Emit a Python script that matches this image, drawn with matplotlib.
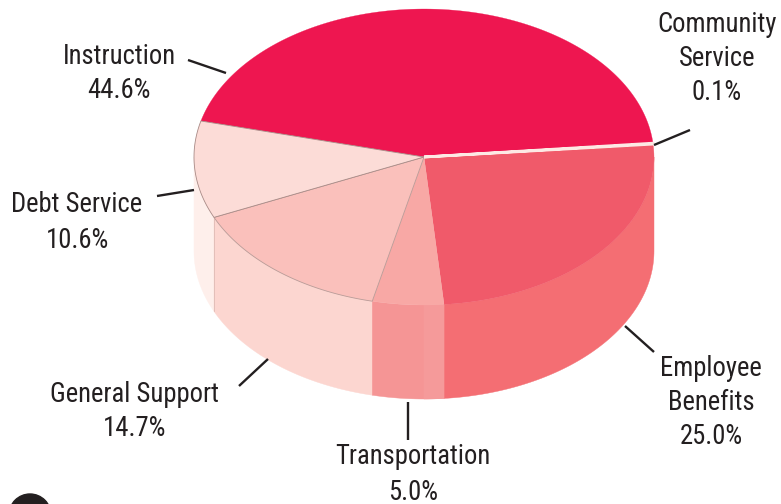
import numpy as np
import matplotlib
matplotlib.use('Agg')
import matplotlib.pyplot as plt
from matplotlib.patches import Circle

# shares of the pie, counter clockwise starting at community service
categories = ['Community Service', 'Instruction', 'Debt Service', 'General Support', 'Transportation', 'Employee Benefits']
values = [0.1, 44.6, 10.6, 14.7, 5.0, 25.0]
top_colors = ['#FDE9E4', '#EE1650', '#FCDCD7', '#FAC0BB', '#F8A8A5', '#F05A6A']
side_colors = ['#F46E73', '#EE1650', '#FEEFEB', '#FCD6D0', '#F59595', '#F46E73']

plt.rcParams['font.family'] = ['Roboto Condensed', 'Roboto']

fig = plt.figure(figsize=(7.81, 5.04), dpi=100)
ax = fig.add_axes([0, 0, 1, 1])
ax.set_xlim(0, 781)
ax.set_ylim(504, 0)
ax.axis('off')

# ellipse of the top face and height of the drum
cx, cy = 424, 157
rx, ry = 230, 148
depth = 94
start = 5.0


def rim(t, dy=0):
    r = np.radians(t)
    return cx + rx * np.cos(r), cy - ry * np.sin(r) + dy


angles = start + np.cumsum([0] + values) * 3.6

# sides first, only the part facing us (180 to 360 degrees)
for i, col in enumerate(side_colors):
    a = max(angles[i], 180)
    b = min(angles[i + 1], 360)
    if b <= a:
        continue
    t = np.linspace(a, b, 80)
    x, y = rim(t)
    x2, y2 = rim(t[::-1], depth)
    ax.fill(np.r_[x, x2], np.r_[y, y2], color=col, lw=0.3, zorder=1)

# seam under the centre of the transportation side
t = np.linspace(270, min(angles[5], 360), 20)
x, y = rim(t)
x2, y2 = rim(t[::-1], depth)
ax.fill(np.r_[x, x2], np.r_[y, y2], color='#F59A9A', lw=0.3, zorder=1.5)

# seam at the debt / general edge
sx, sy = rim(angles[3])
ax.plot([sx, sx], [sy, sy + depth], color='#D9B5B0', lw=0.5, zorder=2)

# top face
edges = [None, None, '#A88A86', '#B89A96', None, None]
order = [1, 5, 4, 3, 2, 0]
for i in order:
    t = np.linspace(angles[i], angles[i + 1], 150)
    x, y = rim(t)
    lw = 2 if i == 0 else 0.2
    ax.fill(np.r_[cx, x], np.r_[cy, y], facecolor=top_colors[i],
            edgecolor=edges[i] or top_colors[i], lw=0.6 if edges[i] else lw, zorder=3)

# leader lines
leaders = [((188, 60), (226, 73)), ((654, 145), (690, 130)), ((625, 326), (654, 352)),
           ((408, 402), (408, 440)), ((268, 359), (239, 386)), ((157, 196), (194, 190))]
for p, q in leaders:
    ax.plot([p[0], q[0]], [p[1], q[1]], color='#231F20', lw=1.7, zorder=4, solid_capstyle='butt')

# labels
labels = [(119, [56, 90], ['Instruction', '44.6%']),
          (717, [24, 58, 92], ['Community', 'Service', '0.1%']),
          (77, [205, 241], ['Debt Service', '10.6%']),
          (135, [394, 429], ['General Support', '14.7%']),
          (413, [457, 492], ['Transportation', '5.0%']),
          (711, [368, 402, 437], ['Employee', 'Benefits', '25.0%'])]
for lx, ys, lines in labels:
    for ly, s in zip(ys, lines):
        ax.text(lx, ly, s, ha='center', va='center', fontsize=19.2, color='#231F20')

# black dot cut off at the bottom of the page
ax.add_patch(Circle((30, 515), 21, color='#231F20', zorder=5, clip_on=True))

fig.savefig('out.png', dpi=100)
